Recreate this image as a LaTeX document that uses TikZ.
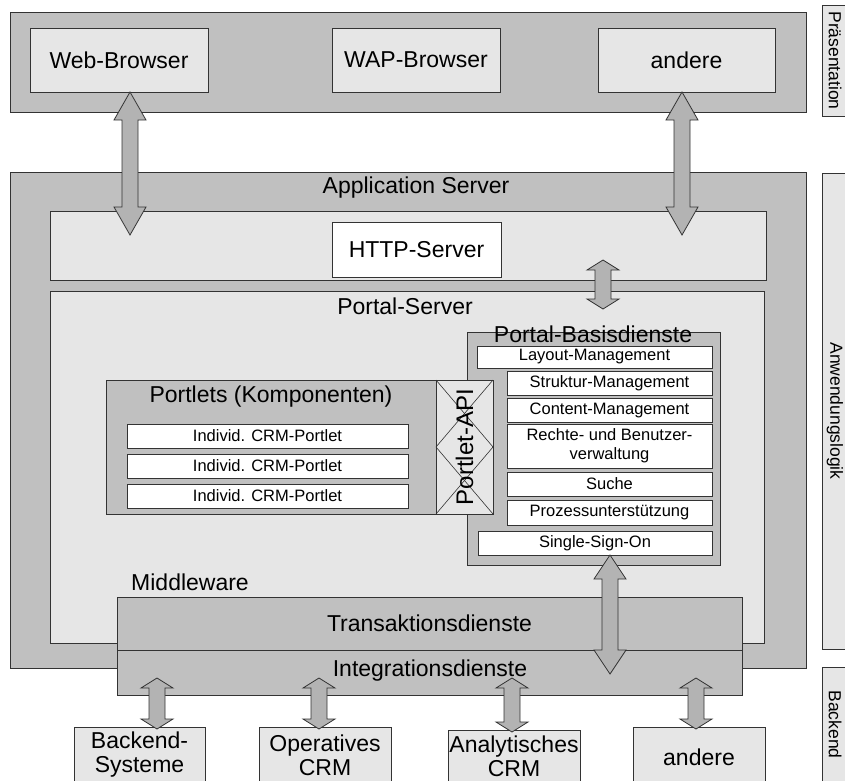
\documentclass[tikz,border=0pt]{standalone}
\usepackage{fontspec}
\setmainfont{Liberation Sans}
\usetikzlibrary{calc}
\definecolor{dgray}{HTML}{C0C0C0}
\definecolor{lgray}{HTML}{E6E6E6}
\definecolor{agray}{HTML}{B3B3B3}
\definecolor{edgec}{HTML}{333333}
\newcommand\dblarrow[3]{%
  \draw[blockarrow] let \p1=(#1), \p2=(#2) in
    (\x1,\y1) -- (\x1+16pt,\y1-#3) -- (\x1+8pt,\y1-#3) -- (\x1+8pt,\y2+#3) --
    (\x1+16pt,\y2+#3) -- (\x1,\y2) -- (\x1-16pt,\y2+#3) -- (\x1-8pt,\y2+#3) --
    (\x1-8pt,\y1-#3) -- (\x1-16pt,\y1-#3) -- cycle;}
\tikzset{
  base/.style={draw=edgec, line width=0.8pt, inner sep=0pt, outer sep=0pt},
  dbox/.style={base, fill=dgray},
  lbox/.style={base, fill=lgray},
  wbox/.style={base, fill=white},
  bigtxt/.style={font=\fontsize{23}{24}\selectfont},
  apitxt/.style={font=\fontsize{24}{26}\selectfont},
  smalltxt/.style={font=\fontsize{16.5}{19}\selectfont},
  labtxt/.style={font=\fontsize{17.5}{20}\selectfont},
  blockarrow/.style={draw=edgec, line width=0.8pt, fill=agray, line join=miter},
  crossline/.style={draw=edgec, line width=0.6pt},
}
\begin{document}
\begin{tikzpicture}[x=1pt,y=-1pt]
\useasboundingbox (0,0) rectangle (845,780);
\clip (0,0) rectangle (845,780);

% ---- presentation layer
\node[dbox, minimum width=796pt, minimum height=100pt] (pres) at (408,62) {};
\node[lbox, bigtxt, minimum width=178pt, minimum height=64pt] (web) at (119,60) {Web-Browser};
\node[lbox, bigtxt, minimum width=168pt, minimum height=64pt] (wap) at (416,60) {WAP-Browser};
\node[lbox, bigtxt, minimum width=177pt, minimum height=64pt] (andereA) at (686.5,60) {andere};

% ---- side labels
\node[lbox, labtxt, rotate=-90, minimum width=111pt, minimum height=26pt] (labpres) at (835,60.5) {Präsentation};
\node[lbox, labtxt, rotate=-90, minimum width=476pt, minimum height=26pt] (labanw) at (835,411) {Anwendungslogik};
\node[lbox, labtxt, rotate=-90, minimum width=115pt, minimum height=26pt] (labback) at (835,724.5) {Backend};

% ---- application server
\node[dbox, minimum width=796pt, minimum height=496pt] (app) at (408,420) {};
\node[bigtxt] (apptitle) at (416,188) {Application Server};
\node[lbox, minimum width=716pt, minimum height=69pt] (httpband) at (408,245.5) {};
\node[wbox, bigtxt, minimum width=169pt, minimum height=55pt] (http) at (416.5,249.5) {HTTP-Server};
\node[lbox, minimum width=714pt, minimum height=352pt] (portal) at (407,467) {};
\node[bigtxt] (portaltitle) at (405,306) {Portal-Server};

% ---- arrows presentation <-> server
\coordinate (a1t) at (130,92);  \coordinate (a1b) at (130,235);
\coordinate (a2t) at (682,92);  \coordinate (a2b) at (682,235);
\dblarrow{a1t}{a1b}{28pt}
\dblarrow{a2t}{a2b}{28pt}
\coordinate (a3t) at (603,260); \coordinate (a3b) at (603,309);
\dblarrow{a3t}{a3b}{10pt}

% ---- portlets
\node[dbox, minimum width=330pt, minimum height=134pt] (portlets) at (271,447) {};
\node[bigtxt] (portletstitle) at (271,397) {Portlets (Komponenten)};
\node[wbox, smalltxt, minimum width=281pt, minimum height=24pt] (p1) at (267.5,436) {Individ. CRM-Portlet};
\node[wbox, smalltxt, minimum width=281pt, minimum height=24pt] (p2) at (267.5,466) {Individ. CRM-Portlet};
\node[wbox, smalltxt, minimum width=281pt, minimum height=24pt] (p3) at (267.5,496) {Individ. CRM-Portlet};

% ---- portal base services
\node[dbox, minimum width=253pt, minimum height=233pt] (basis) at (593.5,448.5) {};
\node[wbox, smalltxt, minimum width=235pt, minimum height=22pt] (layout) at (594.5,357) {Layout-Management};
\node[wbox, smalltxt, minimum width=205pt, minimum height=24pt] (struktur) at (609.5,383) {Struktur-Management};
\node[wbox, smalltxt, minimum width=205pt, minimum height=24pt] (content) at (609.5,410) {Content-Management};
\node[wbox, smalltxt, minimum width=205pt, minimum height=44pt, align=center] (rechte) at (609.5,446) {Rechte- und Benutzer-\\verwaltung};
\node[wbox, smalltxt, minimum width=205pt, minimum height=24pt] (suche) at (609.5,484) {Suche};
\node[wbox, smalltxt, minimum width=205pt, minimum height=25pt] (prozess) at (609.5,512.5) {Prozessunterstützung};
\node[wbox, smalltxt, minimum width=234pt, minimum height=24pt] (sso) at (595,543) {Single-Sign-On};
\node[bigtxt] (basistitle) at (593,334) {Portal-Basisdienste};

% ---- portlet API
\node[lbox, minimum width=57pt, minimum height=134pt] (api) at (464.5,447) {};
\draw[crossline] (api.north west) -- (api.east) -- (api.south west);
\draw[crossline] (api.north east) -- (api.west) -- (api.south east);
\node[apitxt, rotate=90] (apitext) at (api.center) {Portlet-API};

% ---- middleware
\node[bigtxt] (mwtitle) at (190,582) {Middleware};
\node[dbox, minimum width=625pt, minimum height=53pt] (trans) at (429.5,623.5) {};
\node[dbox, minimum width=625pt, minimum height=45pt] (integ) at (429.5,672.5) {};
\coordinate (a4t) at (610,555); \coordinate (a4b) at (610,674);
\dblarrow{a4t}{a4b}{24pt}

% ---- backend systems
\node[lbox, minimum width=131pt, minimum height=63pt] (backend) at (139.5,758.5) {};
\node[lbox, minimum width=132pt, minimum height=63pt] (oper) at (325,758.5) {};
\node[lbox, minimum width=132pt, minimum height=60pt] (analyt) at (514,760) {};
\node[lbox, minimum width=132pt, minimum height=63pt] (andereB) at (699,758.5) {};
\node[bigtxt, align=center] (backendtext) at (139.5,755) {Backend-\\Systeme};
\node[bigtxt, align=center] (opertext) at (325,755) {Operatives\\CRM};
\node[bigtxt, align=center] (analyttext) at (514,756) {Analytisches\\CRM};
\node[bigtxt] (anderetext) at (699,757) {andere};

\coordinate (b1t) at (157,678); \coordinate (b1b) at (157,729);
\coordinate (b2t) at (319,678); \coordinate (b2b) at (319,729);
\coordinate (b3t) at (512,678); \coordinate (b3b) at (512,732);
\coordinate (b4t) at (696,678); \coordinate (b4b) at (696,729);
\dblarrow{b1t}{b1b}{10pt}
\dblarrow{b2t}{b2b}{10pt}
\dblarrow{b3t}{b3b}{10pt}
\dblarrow{b4t}{b4b}{10pt}

\node[bigtxt] (transtext) at (trans.center) {Transaktionsdienste};
\node[bigtxt] (integtext) at (430,671) {Integrationsdienste};
\end{tikzpicture}
\end{document}
